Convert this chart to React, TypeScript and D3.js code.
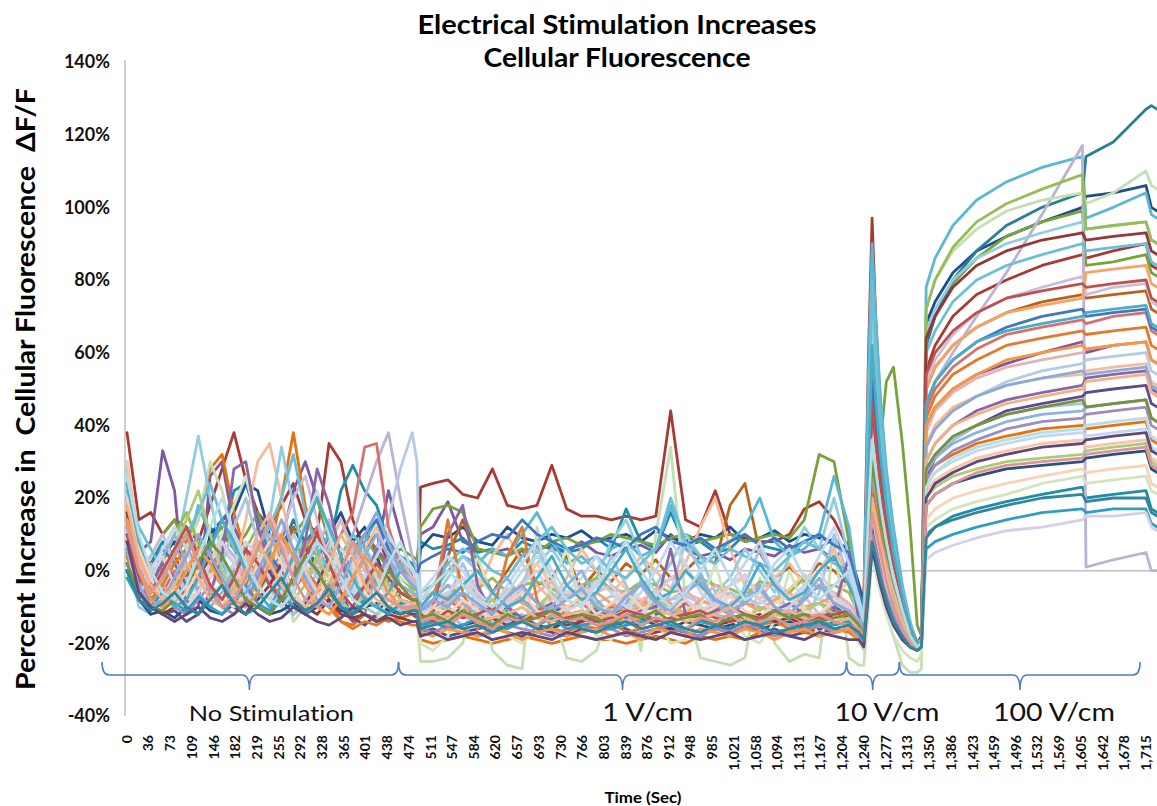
import React from 'react';
import * as d3 from 'd3';

// sample times (s) shared by every cell trace
// baseline 0-488 | 1 V/cm 494-1232 | 10 V/cm 1240-1330 | 100 V/cm 1337-1734
const sampleTimes = [
  0, 20, 40, 60, 80, 100, 120, 140, 160, 180, 200, 220, 240, 260, 280, 300, 320, 340, 360, 380, 400, 420, 440, 460, 480, 488,
  494, 515, 540, 565, 590, 615, 640, 665, 690, 715, 740, 765, 790, 815, 840, 865, 890, 915, 940, 965, 990, 1015, 1040, 1065, 1090, 1115, 1140, 1165, 1190, 1215, 1232,
  1240, 1248, 1254, 1260, 1268, 1278, 1290, 1305, 1318, 1330,
  1337, 1345, 1360, 1390, 1430, 1480, 1540, 1608, 1614, 1660, 1715, 1724, 1734,
];

// percent change dF/F for each cell
const cell01 = [
  38, 14, 16, 10, 14, 12, 8, 18, 28, 38, 25, 16, 12, 18, 24, 14, 10, 35, 30, 14, 6, 10, 2, -8, -12, -13,
  23, 24, 25, 21, 20, 28, 18, 17, 18, 29, 17, 15, 15, 14, 15, 14, 15, 44, 14, 12, 22, 10, 9, 8, 8, 10, 17, 19, 14, 6, -5,
  -8, 60, 97, 70, 45, 25, 10, -5, -15, -20,
  -18, 55, 62, 70, 76, 80, 84, 87, 86, 88, 90, 84, 83,
];
const cell02 = [
  20, 5, 8, 33, 22, -12, -10, 26, 30, 12, 5, -4, 2, 8, 22, 30, 20, 8, -10, -14, -12, 5, 22, 10, -2, -4,
  10, 12, 19, 8, 6, 5, 6, 4, 7, 6, 5, 8, 5, 4, 6, 7, 5, 10, 6, 4, 5, 3, 6, 5, 4, 7, 5, 6, 3, 8, -6,
  -10, 20, 42, 30, 18, 8, -2, -10, -18, -21,
  -19, 40, 45, 50, 54, 57, 60, 63, 60, 62, 63, 58, 57,
];
const cell03 = [
  5, -2, 2, 8, 4, 10, 6, 12, 8, 22, 24, 14, 6, 10, 4, 8, 12, 6, 22, 29, 22, 18, 8, 4, 2, 0,
  8, 6, 7, 9, 5, 6, 4, 8, 6, 7, 5, 6, 9, 6, 17, 8, 6, 16, 7, 8, 5, 6, 10, 7, 6, 5, 8, 6, 9, 4, -8,
  -12, 15, 45, 35, 22, 10, 0, -10, -17, -20,
  -19, 10, 12, 15, 17, 19, 21, 23, 20, 21, 22, 17, 16,
];
const cell04 = [
  12, 0, -5, 4, 8, 2, -6, 10, 14, 16, 24, 22, 10, 4, 12, 6, 2, 10, 16, 8, 12, 4, -4, -6, -8, -8,
  6, 10, 9, 12, 8, 7, 12, 9, 8, 10, 9, 11, 8, 9, 10, 8, 11, 9, 8, 10, 9, 12, 8, 9, 11, 8, 10, 9, 8, 6, -4,
  -9, 30, 60, 45, 30, 15, 3, -8, -16, -21,
  -20, 68, 74, 82, 88, 92, 96, 100, 103, 104, 106, 100, 99,
];
const cell05 = [
  18, -4, -8, -2, 5, 8, 14, 28, 32, 16, 4, -2, 6, 20, 38, 18, 6, -8, -14, -15, -12, -13, -14, -13, -12, -12,
  -19, -20, -19, -18, -19, -20, -19, -18, -19, -20, -19, -18, -19, -19, -20, -19, -18, -19, -20, -18, -19, -18, -19, -17, -18, -16, -17, -18, -17, -16, -19,
  -20, 10, 35, 28, 18, 8, -2, -12, -19, -22,
  -21, 26, 29, 32, 35, 37, 39, 40, 39, 40, 41, 36, 35,
];
const cell06 = [
  8, 2, -6, 0, 4, -2, 6, 2, 10, 6, 0, 4, -4, 2, 12, 8, 0, -6, -2, 4, 10, 6, 0, -4, -6, -7,
  -12, -10, 4, 14, 2, -6, 0, 6, -4, -2, 4, -5, 0, -3, 2, -1, 3, -2, 0, 4, 2, 18, 24, 5, -2, 1, -3, 2, 0, -4, -12,
  -15, 18, 48, 40, 26, 12, 2, -8, -16, -20,
  -19, 50, 56, 62, 67, 71, 74, 76, 75, 76, 77, 72, 71,
];
const cell07 = [
  10, 0, 4, 10, 14, 6, 2, 8, 12, 6, 10, 16, 8, 4, 10, 14, 20, 8, 2, 6, 10, 4, 2, 6, 4, 3,
  12, 17, 18, 16, 6, 5, 4, 6, 5, 8, 9, 7, 8, 10, 9, 8, 7, 9, 10, 8, 9, 10, 8, 9, 10, 9, 14, 32, 30, 8, -6,
  -12, 30, 60, 40, 35, 52, 56, 35, 12, -15,
  -18, 62, 70, 79, 86, 92, 96, 99, 84, 85, 87, 82, 81,
];
const cell08 = [
  30, 6, -8, -10, -6, 4, 18, 10, 2, -4, 0, 6, 12, 8, 2, -2, 4, 10, 6, 2, 8, 14, 6, 0, -4, -5,
  -10, -6, 0, 4, 2, 6, 4, 10, 16, 8, 2, 4, 0, 6, 8, 4, 6, 18, 6, 2, 4, 8, 12, 20, 8, 4, 6, 10, 26, 12, -8,
  -14, 55, 90, 70, 48, 28, 12, -4, -14, -20,
  -19, 78, 86, 95, 102, 107, 111, 114, 97, 100, 104, 98, 97,
];
const cell09 = [
  2, -6, -10, -8, -4, 0, -2, 4, 0, -6, -2, 2, -4, 6, 14, 8, 0, -4, -8, -6, -2, 2, -3, -8, -9, -9,
  -14, -12, -13, -10, -12, -14, -11, -13, -12, -10, -12, -13, -11, -12, -10, -13, -12, -11, -12, -13, -11, -10, -12, -14, -12, -11, -13, -12, -10, -12, -16,
  -18, 5, 25, 18, 10, 2, -6, -14, -19, -21,
  -20, 62, 70, 80, 88, 95, 100, 104, 114, 118, 127, 128, 127,
];
const cell10 = [
  15, 0, -6, -2, 6, 2, -4, 0, 8, 4, -2, 2, 10, 4, -2, 2, 6, 14, 4, 10, 20, 30, 38, 20, 4, 0,
  -16, -14, -12, -15, -13, -10, -14, -12, -15, -13, -11, -14, -12, -13, -15, -12, -14, -13, -11, -14, -12, -13, -15, -12, -14, -13, -12, -14, -13, -12, -17,
  -19, 5, 20, 14, 8, 0, -8, -15, -19, -21,
  -20, 45, 52, 60, 70, 82, 98, 117, 1, 3, 5, 0, 0,
];
const cell11 = [
  22, 4, -6, -10, -4, 6, 14, 30, 22, 8, 0, -6, -2, 4, -14, -10, -4, 6, 14, 4, -4, 0, -6, -10, -12, -12,
  -25, -25, -24, -20, -2, -22, -26, -27, 12, -10, -24, -25, -22, -10, -5, -22, 10, 34, -8, -24, -25, -26, -24, -2, -20, -25, -23, -24, 8, -24, -26,
  -26, -10, 5, 0, -6, -12, -18, -26, -28, -28,
  -27, 72, 80, 88, 94, 99, 102, 104, 101, 104, 110, 106, 105,
];
const cell12 = [
  25, -2, -10, -8, -6, 0, 8, 2, -4, 0, 14, 30, 35, 20, 4, -4, -8, -10, -6, -2, 6, 12, 4, -2, -4, -5,
  -8, -4, 2, -2, -6, 4, 10, 2, -4, -8, -2, 6, 0, -6, -2, 4, 0, -5, 2, 12, 20, 6, -4, -8, -2, 2, -4, 0, 6, -2, -10,
  -14, 25, 50, 40, 28, 15, 4, -8, -16, -21,
  -20, 35, 40, 45, 48, 51, 53, 54, 55, 56, 57, 52, 51,
];
const cell13 = [
  28, 8, -10, -4, 4, 20, 37, 20, 4, -6, -10, -2, 14, 34, 18, 2, -6, -4, 6, 0, -8, -4, 4, 2, -6, -6,
  -14, -8, -2, 4, 0, -6, -10, -4, 2, 6, 0, -6, -2, 8, 14, 4, -4, 2, 10, 4, -6, -2, 6, 0, -6, 4, 12, 6, 20, 4, -10,
  -14, 40, 72, 55, 36, 20, 6, -6, -15, -20,
  -19, 66, 72, 80, 86, 90, 93, 96, 94, 95, 96, 91, 90,
];
const cell14 = [
  10, -4, -8, -10, -6, -2, -6, 0, 6, 2, -4, -8, -6, 2, 10, 4, -2, -6, -4, 2, -2, 6, 14, 28, 38, 30,
  -10, -8, -6, -9, -7, -8, -6, -9, -10, -7, -8, -6, -9, -7, -8, -10, -6, -8, -7, -9, -8, -6, -8, -9, -7, -8, -6, -8, -9, -10, -14,
  -18, 0, 15, 10, 4, -4, -10, -16, -20, -22,
  -21, 34, 39, 44, 48, 52, 55, 57, 58, 59, 60, 55, 54,
];
const cell15 = [
  6, -6, -10, -6, 0, -4, 2, 6, -2, -6, 2, 8, 4, -2, 0, 6, 12, 4, 10, 16, 34, 35, 12, 2, -4, -6,
  -12, -10, -8, -11, -9, -12, -10, -8, -11, -13, -10, -9, -12, -10, -11, -8, -10, -12, -9, -11, -10, -12, -9, -10, -11, -13, -10, -9, -11, -12, -15,
  -18, 12, 30, 22, 14, 5, -4, -12, -18, -21,
  -20, 44, 50, 56, 61, 65, 67, 69, 68, 70, 71, 66, 65,
];
const cell16 = [
  14, -6, -10, -12, -11, -14, -12, -8, -4, -10, -12, -6, 0, -8, -12, -9, -4, 4, -6, -13, -15, -12, -10, -11, -12, -12,
  -17, -16, -18, -17, -16, -15, -17, -18, -16, -17, -18, -16, -17, -15, -16, -18, -17, -16, -17, -18, -16, -17, -15, -17, -16, -18, -17, -16, -17, -16, -18,
  -20, -2, 12, 8, 2, -6, -12, -17, -20, -22,
  -21, 26, 31, 36, 40, 44, 46, 48, 49, 50, 51, 46, 45,
];
const cell17 = [
  16, 2, -4, 2, 10, 16, 8, 0, -4, 2, 6, 12, 6, -2, 2, 8, 4, -2, 2, 8, 4, -4, -6, -2, -5, -6,
  -8, -6, -4, -7, -5, -2, -6, -4, -3, -5, -7, -4, -2, -5, -6, -3, -4, -6, -5, -2, -4, -5, -7, -3, -4, -6, -2, -5, -4, -6, -12,
  -16, 20, 50, 42, 30, 16, 4, -8, -16, -20,
  -19, 72, 80, 89, 96, 101, 105, 109, 94, 95, 96, 91, 90,
];
const cell18 = [
  12, 0, 4, 10, 2, -6, -2, 6, 14, 8, 0, -4, 2, 10, 20, 26, 14, 2, -4, 0, 6, 2, -4, 0, -3, -4,
  -13, -11, -9, -6, -10, -12, -8, -5, -9, -11, -7, -4, -10, -12, -6, -9, -11, -8, -5, -10, -12, -9, -6, -11, -8, -10, -7, -12, -9, -11, -15,
  -18, 8, 25, 18, 10, 2, -6, -14, -19, -21,
  -20, 52, 58, 65, 71, 75, 78, 81, 76, 78, 79, 74, 73,
];
const cell19 = [
  30, 10, -6, -10, -9, -8, -6, -2, 4, 10, 4, -4, -8, -2, 6, 2, -6, -10, -8, -4, -9, -10, -6, -4, -6, -6,
  -10, -6, -4, -5, -2, -6, -8, -3, 2, -4, -6, -7, -3, -1, -5, -8, -6, -2, 0, -5, -7, -4, -2, -6, -9, -5, -1, -4, -7, -3, -10,
  -16, 15, 38, 30, 20, 10, 0, -10, -18, -21,
  -20, 22, 25, 28, 31, 33, 35, 36, 34, 35, 36, 31, 30,
];
const cell20 = [
  4, -10, -12, -11, -8, -10, -12, -6, 2, 12, 20, 8, -4, -10, -12, -8, 0, 6, 2, -6, -10, -12, -10, -11, -10, -10,
  -16, -14, -8, 2, -6, -14, -12, -4, 6, -2, -12, -14, -6, 4, -4, -13, -15, -6, 8, 0, -12, -14, -4, 6, -4, -12, -14, -6, 10, -2, -14,
  -18, 10, 30, 24, 14, 4, -6, -14, -20, -22,
  -21, 28, 32, 36, 40, 43, 45, 46, 45, 46, 47, 42, 41,
];
const cell21 = [
  20, 4, 2, 6, 2, -4, 0, 8, 14, 18, 25, 14, 4, 0, -4, 2, 8, 4, -2, 4, 10, 14, 6, 2, 0, -1,
  2, 4, 6, 5, 8, 10, 9, 14, 10, 8, 6, 7, 9, 8, 6, 10, 12, 8, 7, 9, 6, 8, 10, 7, 9, 6, 8, 10, 7, 5, -6,
  -12, 25, 52, 42, 28, 14, 2, -8, -16, -20,
  -20, 46, 52, 58, 63, 67, 70, 72, 70, 71, 72, 67, 66,
];
const cell22 = [
  0, -8, -12, -11, -13, -10, -8, -11, -12, -9, -6, -10, -12, -11, -9, -12, -10, -8, -11, -12, -10, -9, -11, -12, -11, -11,
  -15, -14, -16, -15, -14, -16, -15, -13, -15, -16, -14, -15, -16, -14, -15, -13, -15, -16, -14, -15, -16, -15, -14, -16, -15, -14, -16, -15, -14, -15, -17,
  -19, -5, 8, 4, -2, -8, -14, -18, -20, -22,
  -21, 18, 21, 24, 26, 28, 29, 30, 31, 32, 33, 28, 27,
];
const cell23 = [
  8, -2, 2, -4, -8, -6, 0, 4, -2, -6, -8, -4, 2, 8, 4, -2, -6, -4, 2, 8, 2, -6, -8, -6, -7, -7,
  -11, -9, -7, -10, -12, -8, -6, -9, -11, -7, -10, -8, -6, -9, -11, -10, -7, -9, -12, -8, -10, -7, -9, -11, -8, -6, -10, -9, -7, -10, -13,
  -17, 10, 28, 22, 12, 4, -4, -12, -18, -21,
  -20, 50, 56, 62, 67, 71, 73, 75, 82, 83, 84, 79, 78,
];
const cell24 = [
  18, 6, 0, -6, -10, -8, -4, 2, 10, 18, 26, 12, 2, -4, -10, -12, -6, 0, 6, -4, -12, -14, -8, -2, -4, -5,
  -20, -22, -18, -10, 4, -8, -18, -20, -16, -4, 6, -10, -18, -19, -14, -2, -14, -20, -19, -10, 2, -12, -18, -20, -14, 0, -10, -18, -12, -16, -20,
  -22, -8, 4, 0, -6, -12, -18, -22, -24, -25,
  -23, 12, 14, 17, 19, 21, 24, 26, 24, 25, 26, 22, 21,
];
const cell25 = [
  22, 12, 6, 0, 4, 10, 16, 24, 14, 6, 2, 6, 12, 20, 32, 16, 6, 0, 4, 10, 6, 0, -2, 2, -2, -3,
  -6, -4, 2, 6, 4, 0, -2, 4, 8, 12, 6, 2, 4, 0, -2, 2, 6, 20, 8, 4, 2, 6, 4, 2, 0, 4, 8, 6, 2, 0, -8,
  -12, 40, 80, 62, 42, 24, 8, -6, -15, -20,
  -20, 60, 66, 74, 80, 84, 87, 90, 88, 89, 90, 85, 84,
];
const cell26 = [
  12, 2, -4, -8, -2, 6, 2, -4, -8, -4, 2, 10, 16, 8, 0, -4, 2, 8, 14, 6, 0, -6, -2, 4, -2, -3,
  -8, -6, -9, -4, -7, -10, -5, -8, -6, -3, -8, -10, -6, -4, -7, -9, -5, -2, -6, -8, -4, -7, -9, -5, -3, -7, -8, -4, -6, -9, -12,
  -16, 12, 32, 24, 15, 6, -3, -11, -18, -21,
  -20, 38, 44, 49, 53, 56, 58, 60, 61, 62, 63, 58, 57,
];
const cell27 = [
  6, -8, -4, 2, -2, -8, -12, -6, 4, 28, 30, 12, 2, -6, -2, 8, 28, 18, 4, -8, -4, 6, 2, -6, -8, -9,
  -14, -12, 10, 18, -4, -12, -10, -13, -11, -9, -12, -14, -10, -12, -13, -11, -10, 6, -12, -13, -11, -10, -12, -13, -11, -9, -12, -13, -11, 4, -14,
  -18, 5, 22, 16, 9, 2, -6, -14, -19, -21,
  -20, 30, 35, 40, 44, 47, 49, 51, 53, 54, 55, 50, 49,
];
const cell28 = [
  4, -6, -8, -4, 2, 6, 0, -6, -10, -8, -4, 2, -2, -8, -6, 0, -4, -10, -14, -16, -14, -15, -13, -14, -15, -15,
  -18, -10, 14, -6, -16, -12, 4, 12, -8, -16, -17, -15, -16, -14, -17, -16, -15, -17, -16, -14, -15, -17, -16, -15, -14, -16, -17, -15, -16, -17, -19,
  -20, 6, 26, 20, 12, 4, -4, -12, -18, -21,
  -20, 42, 48, 54, 58, 62, 64, 66, 65, 66, 67, 62, 61,
];
const cell29 = [
  2, -4, 0, 6, 12, 6, -2, -6, -4, 2, 8, 4, -2, -6, 2, 14, 22, 10, 0, -6, -2, 4, 10, 4, 0, -1,
  -6, -2, 4, 0, -6, -10, -4, 2, 8, 0, -6, -2, 4, -4, -10, -6, 0, 8, 2, -6, -10, -4, 2, 8, -2, -8, -4, 4, 12, 2, -8,
  -14, 18, 40, 32, 20, 10, 0, -10, -18, -21,
  -20, 24, 27, 30, 33, 35, 37, 38, 37, 38, 39, 34, 33,
];
const cell30 = [
  10, -2, -8, -6, -10, -12, -8, -4, -10, -12, -8, -2, 4, -4, -10, -12, -8, -4, -10, -12, -8, -2, 4, -4, -8, -9,
  -16, -17, -15, -16, -18, -17, -15, -16, -17, -18, -16, -15, -17, -16, -18, -17, -16, -15, -17, -18, -16, -17, -15, -16, -18, -17, -16, -15, -17, -16, -18,
  -20, -4, 10, 6, 0, -6, -12, -17, -20, -22,
  -21, 25, 29, 33, 36, 39, 41, 42, 43, 44, 45, 40, 39,
];
const cell31 = [
  16, -4, -10, -12, -10, -6, -2, 4, -4, -10, -12, -8, -4, 2, -6, -10, -12, -8, -12, -13, -12, -14, -12, -13, -14, -14,
  -14, -13, -15, -12, -14, -13, -15, -14, -12, -13, -15, -14, -13, -12, -14, -15, -13, -14, -12, -13, -15, -14, -13, -12, -14, -13, -15, -14, -12, -13, -16,
  -18, 20, 45, 36, 24, 12, 2, -8, -16, -20,
  -20, 64, 70, 78, 84, 88, 91, 93, 91, 92, 93, 88, 87,
];
const cell32 = [
  8, 0, -6, -2, 6, 14, 22, 10, 0, -6, -2, 6, 2, -4, -8, -4, 4, -2, -8, -12, -6, 2, -4, -8, -10, -10,
  -14, -12, -10, -13, -11, -8, -12, -14, -10, -6, -12, -13, -9, -11, -14, -12, -8, -10, -13, -11, -9, -12, -14, -10, -12, -13, -11, -9, -12, -14, -17,
  -19, 4, 18, 12, 6, -2, -9, -15, -19, -21,
  -20, 20, 23, 26, 28, 30, 31, 32, 33, 34, 35, 30, 29,
];
const cell33 = [
  14, 4, -2, 4, 10, 2, -6, -10, -6, 0, 6, 2, -4, -8, -4, 4, 0, -6, -10, -4, 4, 10, 4, -4, -6, -7,
  -12, -8, -4, -9, -12, -6, -2, -8, -12, -10, -4, 0, -8, -12, -9, -3, -8, -12, -6, -1, -9, -12, -8, -4, -10, -12, -7, -2, -9, -11, -14,
  -18, 14, 34, 26, 16, 6, -4, -12, -18, -21,
  -20, 27, 31, 35, 38, 41, 43, 44, 45, 46, 47, 42, 41,
];
const cell34 = [
  20, 6, -2, -8, -10, -6, 0, -4, -8, -10, -6, 2, 8, 2, -6, -10, -8, -2, 6, 2, -6, -10, -8, -4, -8, -8,
  -13, -10, -12, -8, -11, -13, -9, -6, -11, -13, -10, -7, -12, -9, -6, -10, -13, -11, -8, -12, -10, -7, -11, -13, -9, -7, -11, -12, -8, -10, -14,
  -18, 2, 16, 10, 4, -4, -10, -16, -20, -22,
  -21, 14, 17, 20, 22, 24, 26, 28, 27, 28, 29, 24, 23,
];
const cell35 = [
  -2, -8, -10, -6, -9, -11, -7, -10, -12, -8, -4, -9, -11, -7, -10, -12, -9, -6, -10, -11, -8, -10, -12, -9, -10, -10,
  -15, -14, -16, -15, -13, -15, -16, -14, -15, -13, -16, -15, -14, -16, -15, -14, -13, -15, -16, -14, -15, -16, -14, -15, -13, -15, -16, -14, -15, -14, -17,
  -19, -6, 6, 2, -4, -10, -15, -19, -21, -22,
  -21, 6, 8, 10, 12, 14, 16, 17, 16, 17, 17, 13, 12,
];
const cell36 = [
  6, -6, -2, 4, -4, -10, -6, 2, 8, 2, -6, -10, -6, 0, 6, 0, -6, -10, -6, 0, 4, -2, -8, -10, -9, -9,
  -12, -10, -6, -2, -8, -12, -9, -4, 0, -7, -11, -9, -3, -6, -10, -12, -7, -2, -8, -11, -9, -4, -1, -8, -12, -10, -5, 0, -7, -10, -14,
  -18, 4, 18, 12, 6, -2, -10, -16, -20, -22,
  -21, 3, 5, 7, 9, 11, 12, 14, 15, 15, 16, 12, 11,
];
const cell37 = [
  10, -2, -6, 0, 6, 12, 4, -4, -8, -2, 6, 2, -4, -8, -2, 4, 10, 2, -6, -10, -4, 2, -2, -6, -8, -8,
  -12, -14, -11, -13, -12, -10, -13, -14, -12, -11, -13, -12, -14, -13, -11, -12, -14, -13, -12, -11, -13, -14, -12, -13, -11, -12, -14, -13, -12, -11, -15,
  -17, 22, 46, 36, 24, 12, 2, -8, -16, -20,
  -20, 54, 60, 66, 71, 75, 77, 79, 78, 79, 80, 75, 74,
];
const cell38 = [
  24, 8, 0, -6, -10, -8, -2, 6, 14, 8, 0, -6, -10, -4, 4, 12, 20, 12, 4, -2, -8, -10, -6, 0, -4, -5,
  -10, -6, -8, -4, 0, -6, -10, -8, -2, 4, -4, -8, -6, 0, 6, -2, -8, -6, 0, -4, -8, -10, -6, 2, -4, -8, -6, 0, 4, -4, -10,
  -15, 30, 62, 48, 32, 18, 5, -7, -16, -20,
  -20, 46, 52, 58, 63, 66, 68, 70, 71, 72, 73, 68, 67,
];
const cell39 = [
  14, 0, -8, -10, -6, 0, 6, 2, -4, -8, -10, -6, 2, 10, 4, -4, -10, -12, -8, -2, 4, 0, -6, -10, -11, -11,
  -17, -18, -16, -17, -18, -16, -17, -19, -17, -16, -18, -17, -16, -18, -17, -19, -16, -17, -18, -16, -17, -18, -16, -17, -19, -17, -16, -18, -17, -16, -19,
  -20, 8, 28, 22, 14, 5, -4, -12, -18, -21,
  -20, 40, 45, 50, 54, 58, 60, 62, 61, 62, 63, 58, 57,
];
const cell40 = [
  6, -4, -10, -8, -2, 4, 10, 4, -2, -8, -6, 0, 6, 14, 6, -2, -8, -10, -4, 4, 10, 16, 8, 0, -4, -5,
  -11, -8, -10, -6, -9, -12, -7, -4, -9, -11, -8, -5, -10, -12, -7, -4, -9, -11, -6, -3, -8, -11, -9, -5, -10, -12, -8, -4, -9, -11, -14,
  -18, 10, 28, 22, 14, 5, -4, -12, -18, -21,
  -20, 34, 39, 44, 48, 51, 53, 55, 54, 55, 56, 51, 50,
];
const cell41 = [
  18, 4, -4, -8, -4, 2, -2, -8, -10, -6, 0, 8, 2, -4, -8, -10, -6, 2, 10, 4, -4, -8, -10, -8, -9, -9,
  -14, -12, -13, -11, -14, -13, -12, -10, -13, -14, -12, -11, -13, -12, -14, -13, -11, -12, -14, -13, -12, -10, -13, -14, -12, -11, -13, -12, -14, -13, -16,
  -18, 4, 20, 15, 8, 1, -6, -14, -19, -21,
  -20, 30, 35, 40, 43, 46, 48, 50, 52, 53, 54, 49, 48,
];
const cell42 = [
  2, -6, -10, -11, -8, -4, 2, 8, 4, -2, -8, -10, -12, -8, -2, 4, 0, -6, -10, -12, -10, -6, 0, -4, -8, -8,
  -13, -12, -14, -11, -13, -15, -12, -14, -13, -11, -14, -12, -13, -15, -12, -13, -11, -14, -13, -12, -15, -13, -12, -14, -11, -13, -12, -14, -13, -12, -15,
  -18, 10, 30, 24, 14, 6, -3, -11, -18, -21,
  -20, 28, 32, 37, 40, 43, 45, 47, 45, 46, 47, 42, 41,
];
const cell43 = [
  26, 10, 0, -6, -8, -4, 4, 12, 20, 10, 2, -4, -8, -10, -6, 2, 8, 4, -2, -8, -10, -6, 2, 8, 0, -2,
  -8, -4, 0, -4, -8, -10, -6, 0, 4, -2, -8, -10, -4, 2, 8, 0, -6, -10, -6, 0, 6, -2, -8, -6, 2, 6, -2, -8, -4, 0, -10,
  -14, 16, 36, 28, 18, 8, -2, -11, -18, -21,
  -20, 23, 27, 31, 34, 36, 38, 39, 40, 41, 42, 37, 36,
];
const cell44 = [
  8, -6, -10, -12, -14, -12, -10, -13, -14, -12, -9, -12, -14, -13, -10, -12, -14, -15, -13, -10, -12, -14, -13, -15, -14, -14,
  -18, -17, -19, -18, -17, -19, -18, -17, -18, -19, -17, -18, -19, -18, -17, -18, -19, -17, -18, -19, -18, -17, -19, -18, -17, -18, -19, -17, -18, -19, -19,
  -21, -6, 6, 2, -4, -10, -15, -19, -21, -22,
  -21, 20, 24, 27, 30, 32, 34, 35, 36, 37, 38, 33, 32,
];
const cell45 = [
  12, 0, -6, -2, 4, 10, 2, -6, -10, -8, -2, 6, 14, 6, -2, -8, -10, -6, 0, 8, 2, -6, -8, -10, -10, -10,
  -14, -13, -15, -12, -14, -16, -13, -14, -15, -12, -14, -13, -15, -14, -12, -15, -13, -14, -16, -13, -14, -12, -15, -14, -13, -15, -14, -12, -14, -15, -16,
  -18, 2, 16, 11, 5, -3, -10, -16, -20, -22,
  -21, 18, 21, 24, 27, 29, 30, 31, 32, 33, 34, 29, 28,
];
const cell46 = [
  0, -8, -11, -9, -6, -10, -12, -8, -4, -9, -12, -10, -6, -2, -8, -11, -9, -5, -10, -12, -9, -6, -10, -12, -11, -11,
  -16, -15, -14, -16, -15, -17, -15, -14, -16, -15, -14, -16, -17, -15, -14, -16, -15, -14, -16, -17, -15, -16, -14, -15, -17, -16, -15, -14, -16, -15, -17,
  -19, -4, 8, 4, -2, -8, -14, -18, -21, -22,
  -21, 9, 12, 14, 16, 18, 20, 21, 19, 20, 20, 16, 15,
];

const traces = [
  cell01, cell02, cell03, cell04, cell05, cell06, cell07, cell08, cell09, cell10, cell11, cell12,
  cell13, cell14, cell15, cell16, cell17, cell18, cell19, cell20, cell21, cell22, cell23, cell24,
  cell25, cell26, cell27, cell28, cell29, cell30, cell31, cell32, cell33, cell34, cell35, cell36,
  cell37, cell38, cell39, cell40, cell41, cell42, cell43, cell44, cell45, cell46,
];

const traceColors = [
  '#A93A33', '#7E57A6', '#1E8DA8', '#1F4E8C', '#E8710F', '#B8631A', '#78A23A', '#5AB8D6', '#2A7F97', '#BCB3D4', '#C5DEB2', '#F7BB9A',
  '#92CDE0', '#B4CBE6', '#D9706E', '#5E4A8C', '#96BE55', '#C9BFDC', '#FAC5A8', '#A3C6E8', '#3F78BF', '#2B4F80', '#F6A465', '#D3E5BF',
  '#6CC0D6', '#E4B3B2', '#8766A9', '#E07A2C', '#C3D8EF', '#9E8CBE', '#953735', '#AECB7C', '#8CB3E0', '#FBD2B6', '#2E9FBE', '#D6CFE6',
  '#C0504D', '#4BACC6', '#F79646', '#8DA9DB', '#F4B183', '#76923C', '#B7DEE8', '#60497A', '#DA9694', '#31859C',
];

const yTicks = [-40, -20, 0, 20, 40, 60, 80, 100, 120, 140];
const xTickTimes = [
  0, 36, 73, 109, 146, 182, 219, 255, 292, 328, 365, 401, 438, 474, 511, 547, 584, 620, 657, 693, 730, 766, 803, 839,
  876, 912, 948, 985, 1021, 1058, 1094, 1131, 1167, 1204, 1240, 1277, 1313, 1350, 1386, 1423, 1459, 1496, 1532, 1569,
  1605, 1642, 1678, 1715,
];

// stimulation phases (seconds)
const phaseLabels = ['No Stimulation', '1 V/cm', '10 V/cm', '100 V/cm'];
const phaseStart = [-42, 457, 1211, 1300];
const phaseEnd = [457, 1211, 1300, 1705];
const phaseMid = [206, 834, 1255, 1503];
const phaseLabelAt = [243, 876, 1279, 1560];

export default function App() {
  const width = 1157;
  const height = 806;
  const font = 'Lato, "Open Sans", sans-serif';

  const x = d3.scaleLinear().domain([0, 1715]).range([127, 1146]);
  const y = d3.scaleLinear().domain([-40, 140]).range([716, 62]);

  const line = d3
    .line<[number, number]>()
    .x((d) => x(d[0]))
    .y((d) => y(d[1]));

  const fmtTime = d3.format(',');

  // curly brace under each phase
  const braceY = 675;
  const bracePath = (a: number, b: number, c: number) => {
    const x0 = x(a);
    const x1 = x(b);
    const xc = x(c);
    const r = 7;
    return (
      `M${x0},${braceY - 13} Q${x0},${braceY} ${x0 + r},${braceY} L${xc - r},${braceY} ` +
      `Q${xc},${braceY} ${xc},${braceY + 15} Q${xc},${braceY} ${xc + r},${braceY} ` +
      `L${x1 - r},${braceY} Q${x1},${braceY} ${x1},${braceY - 13}`
    );
  };

  const labelWidths = [165, 91, 105, 122];
  const labelSizes = [21, 25, 25, 25];

  return (
    <svg
      width={width}
      height={height}
      style={{ position: 'absolute', left: 0, top: 0, display: 'block', background: '#fff', fontVariantLigatures: 'none' }}
      fontFamily={font}
    >
      <rect width={width} height={height} fill="#fff" />

      {/* title */}
      <text x={617} y={34} textAnchor="middle" fontSize={26} fontWeight={700} textLength={399} lengthAdjust="spacingAndGlyphs">
        Electrical Stimulation Increases
      </text>
      <text x={617} y={67} textAnchor="middle" fontSize={26} fontWeight={700} textLength={267} lengthAdjust="spacingAndGlyphs">
        Cellular Fluorescence
      </text>

      {/* y axis title */}
      <text
        transform="translate(35,389) rotate(-90)"
        textAnchor="middle"
        fontSize={26}
        fontWeight={700}
        textLength={602}
        lengthAdjust="spacingAndGlyphs"
        style={{ whiteSpace: 'pre' }}
      >
        {'Percent Increase in  Cellular Fluorescence  \u0394F/F'}
      </text>

      {/* y tick labels */}
      {yTicks.map((v) => (
        <text key={v} x={110} y={y(v)} dy="0.36em" textAnchor="end" fontSize={18} fontWeight={700} fill="#111">
          {`${v}%`}
        </text>
      ))}

      {/* zero axis and value axis */}
      <line x1={125} x2={width} y1={y(0)} y2={y(0)} stroke="#BFBFBF" strokeWidth={1.5} />
      <line x1={125} x2={125} y1={y(140) - 2} y2={y(-40)} stroke="#BFBFBF" strokeWidth={1.5} />

      {/* traces */}
      <g fill="none" strokeWidth={2.8} strokeLinejoin="round" strokeLinecap="round">
        {traces.map((vals, i) => {
          const pts = vals
            .slice(0, sampleTimes.length)
            .map((v, k) => [sampleTimes[k], v] as [number, number]);
          return <path key={i} d={line(pts) || ''} stroke={traceColors[i]} />;
        })}
      </g>

      {/* phase braces */}
      <g fill="none" stroke="#4A7EC0" strokeWidth={1.6}>
        {phaseLabels.map((l, i) => (
          <path key={l} d={bracePath(phaseStart[i], phaseEnd[i], phaseMid[i])} />
        ))}
      </g>
      {phaseLabels.map((l, i) => (
        <text
          key={l}
          x={x(phaseLabelAt[i])}
          y={721}
          textAnchor="middle"
          fontSize={labelSizes[i]}
          textLength={labelWidths[i]}
          lengthAdjust="spacingAndGlyphs"
          fill="#111"
        >
          {l}
        </text>
      ))}

      {/* x tick labels */}
      {xTickTimes.map((t) => (
        <text
          key={t}
          transform={`translate(${x(t) + 5},735) rotate(-90)`}
          textAnchor="end"
          fontSize={14}
          fontWeight={700}
          fill="#111"
        >
          {fmtTime(t)}
        </text>
      ))}

      <text x={643} y={803} textAnchor="middle" fontSize={15} fontWeight={700} textLength={77} lengthAdjust="spacingAndGlyphs">
        Time (Sec)
      </text>
    </svg>
  );
}
